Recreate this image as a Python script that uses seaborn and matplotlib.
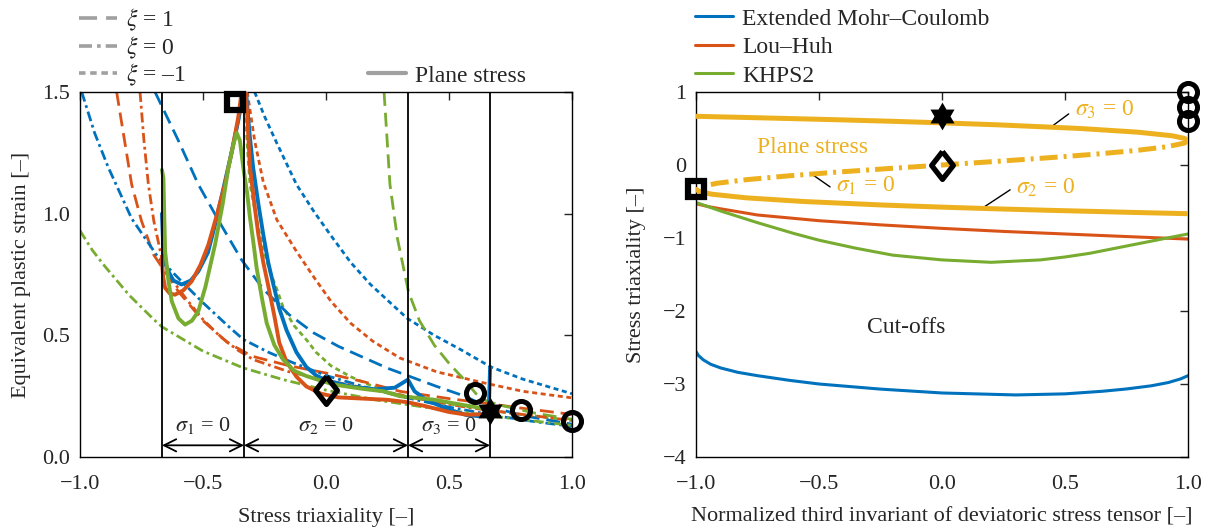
import math
import matplotlib
matplotlib.use('Agg')
import matplotlib.pyplot as plt
from matplotlib.lines import Line2D
import seaborn as sns

sns.set_style('white')
plt.rcParams['font.family'] = ['Liberation Serif', 'DejaVu Serif']
plt.rcParams['mathtext.fontset'] = 'stix'
plt.rcParams['font.size'] = 16

BLUE = '#0072BD'; ORANGE = '#D95319'; GREEN = '#77AC30'; YELLOW = '#EDB120'

# ---------------- left panel data (stress triaxiality vs equivalent plastic strain)
emc_m1_x = [-0.29, -0.25, -0.20, -0.12, -0.05, 0.02, 0.10, 0.18, 0.26, 0.33, 0.44, 0.55, 0.67, 0.80, 0.90, 1.00]
emc_m1_y = [1.50, 1.40, 1.29, 1.12, 1.01, 0.91, 0.80, 0.71, 0.635, 0.57, 0.50, 0.44, 0.37, 0.32, 0.29, 0.26]
lh_m1_x = [-0.32, -0.29, -0.255, -0.20, -0.12, -0.05, 0.02, 0.10, 0.19, 0.30, 0.45, 0.64, 0.80, 1.00]
lh_m1_y = [1.50, 1.30, 1.13, 0.975, 0.845, 0.74, 0.64, 0.55, 0.476, 0.407, 0.35, 0.305, 0.27, 0.243]
kh_m1_x = [-0.335, -0.327, -0.318, -0.309, -0.29, -0.275, -0.25, -0.228, -0.20, -0.174, -0.13, -0.078, -0.04,
           0.02, 0.10, 0.18, 0.26, 0.40, 0.55, 0.75, 1.00]
kh_m1_y = [1.50, 1.39, 1.25, 1.12, 1.02, 0.94, 0.84, 0.763, 0.69, 0.615, 0.54, 0.48, 0.43,
           0.375, 0.33, 0.295, 0.265, 0.235, 0.21, 0.18, 0.15]

emc_p1_x = [-0.695, -0.60, -0.519, -0.43, -0.343, -0.255, -0.15, -0.05, 0.05, 0.15, 0.25, 0.33, 0.45, 0.55, 0.64, 0.80, 1.00]
emc_p1_y = [1.50, 1.30, 1.12, 0.96, 0.81, 0.69, 0.585, 0.51, 0.455, 0.41, 0.365, 0.335, 0.29, 0.255, 0.215, 0.17, 0.135]
lh_p1_x = [-0.851, -0.79, -0.75, -0.70, -0.65, -0.60, -0.50, -0.40, -0.30, -0.15, 0.0, 0.15, 0.30, 0.50, 0.64, 0.80, 1.00]
lh_p1_y = [1.50, 1.12, 0.97, 0.83, 0.755, 0.68, 0.56, 0.47, 0.414, 0.375, 0.345, 0.31, 0.27, 0.24, 0.222, 0.20, 0.175]
kh_p1_x = [0.236, 0.26, 0.29, 0.335, 0.38, 0.44, 0.50, 0.56, 0.61, 0.65, 0.70, 0.85, 1.00]
kh_p1_y = [1.50, 1.12, 0.90, 0.68, 0.56, 0.46, 0.385, 0.32, 0.26, 0.232, 0.215, 0.18, 0.155]

emc_0_x = [-0.993, -0.94, -0.885, -0.79, -0.682, -0.60, -0.499, -0.40, -0.336, -0.233, -0.133, 0.0, 0.15, 0.30, 0.50, 0.707, 0.85, 1.00]
emc_0_y = [1.50, 1.33, 1.19, 0.98, 0.82, 0.735, 0.633, 0.54, 0.483, 0.43, 0.387, 0.335, 0.29, 0.25, 0.205, 0.167, 0.145, 0.126]
lh_0_x = [-0.756, -0.74, -0.722, -0.70, -0.668, -0.62, -0.566, -0.50, -0.431, -0.36, -0.295, -0.15, -0.011, 0.15, 0.30, 0.45, 0.60, 0.80, 1.00]
lh_0_y = [1.50, 1.30, 1.12, 0.97, 0.82, 0.72, 0.647, 0.565, 0.496, 0.44, 0.40, 0.35, 0.318, 0.285, 0.255, 0.225, 0.20, 0.175, 0.15]
kh_0_x = [-1.0, -0.95, -0.90, -0.80, -0.70, -0.667, -0.50, -0.336, -0.174, -0.011, 0.20, 0.40, 0.60, 0.80, 1.00]
kh_0_y = [0.93, 0.85, 0.785, 0.665, 0.565, 0.535, 0.435, 0.366, 0.318, 0.277, 0.235, 0.205, 0.178, 0.153, 0.13]

emc_ps_x = [-0.667, -0.662, -0.655, -0.641, -0.62, -0.587, -0.55, -0.519, -0.48, -0.451, -0.42, -0.383, -0.355, -0.343,
            -0.333, -0.325, -0.31, -0.296, -0.275, -0.255, -0.235, -0.214, -0.19, -0.16, -0.12, -0.08, -0.04, 0.0,
            0.10, 0.20, 0.28, 0.333, 0.36, 0.40, 0.436, 0.50, 0.572, 0.62, 0.655, 0.662, 0.667]
emc_ps_y = [1.00, 0.87, 0.80, 0.763, 0.725, 0.709, 0.725, 0.763, 0.84, 0.955, 1.09, 1.256, 1.39, 1.46,
            1.60, 1.50, 1.32, 1.188, 1.04, 0.914, 0.80, 0.709, 0.61, 0.52, 0.43, 0.37, 0.335, 0.315,
            0.29, 0.278, 0.285, 0.318, 0.27, 0.24, 0.222, 0.195, 0.172, 0.168, 0.17, 0.20, 0.37]
lh_ps_x = [-0.668, -0.662, -0.654, -0.635, -0.614, -0.58, -0.546, -0.51, -0.478, -0.445, -0.411, -0.38, -0.357, -0.343,
           -0.333, -0.32, -0.309, -0.29, -0.275, -0.255, -0.234, -0.21, -0.19, -0.16, -0.12, -0.08, -0.02, 0.05,
           0.15, 0.25, 0.333, 0.40, 0.50, 0.572, 0.62, 0.667]
lh_ps_y = [0.818, 0.74, 0.695, 0.672, 0.667, 0.685, 0.722, 0.79, 0.873, 0.99, 1.12, 1.27, 1.394, 1.50,
           1.60, 1.40, 1.19, 1.03, 0.914, 0.80, 0.70, 0.58, 0.47, 0.39, 0.33, 0.29, 0.26, 0.245,
           0.24, 0.235, 0.225, 0.21, 0.185, 0.174, 0.175, 0.18]
kh_ps_x = [-0.667, -0.661, -0.654, -0.64, -0.627, -0.60, -0.573, -0.545, -0.519, -0.49, -0.451, -0.42, -0.397, -0.375,
           -0.363, -0.35, -0.336, -0.32, -0.309, -0.295, -0.282, -0.26, -0.241, -0.21, -0.174, -0.13, -0.078, 0.03,
           0.15, 0.233, 0.30, 0.436, 0.55, 0.626, 0.667]
kh_ps_y = [1.18, 1.147, 0.845, 0.72, 0.64, 0.57, 0.544, 0.56, 0.599, 0.70, 0.873, 1.04, 1.188, 1.29,
           1.332, 1.30, 1.188, 1.08, 0.983, 0.88, 0.777, 0.65, 0.55, 0.46, 0.40, 0.355, 0.332, 0.298,
           0.28, 0.27, 0.25, 0.236, 0.215, 0.202, 0.195]

region_bounds = [-2/3, -1/3, 1/3, 2/3]
region_labels = [r'$\sigma_1$ = 0', r'$\sigma_2$ = 0', r'$\sigma_3$ = 0']

sq_left = [(-0.37, 1.46)]
dia_left = [(0.0, 0.277)]
circ_left = [(0.606, 0.263), (0.791, 0.195), (1.0, 0.147)]
star_left = [(0.667, 0.188)]

# ---------------- right panel data (Lode parameter vs triaxiality)
ps_s3_xi = [-1.0, -0.782, -0.427, -0.216, -0.024, 0.229, 0.5625, 0.795, 0.936, 0.985, 1.0]
ps_s3_eta = [0.667, 0.65, 0.62, 0.60, 0.58, 0.55, 0.50, 0.45, 0.40, 0.365, 0.333]
ps_s1_xi = [1.0, 0.9855, 0.914, 0.792, 0.629, 0.4365, 0.223, 0.0, -0.223, -0.4365, -0.629, -0.792, -0.914, -0.9855, -1.0]
ps_s1_eta = [0.333, 0.30, 0.25, 0.20, 0.15, 0.10, 0.05, 0.0, -0.05, -0.10, -0.15, -0.20, -0.25, -0.30, -0.333]
ps_s2_xi = [-1.0, -0.985, -0.936, -0.795, -0.5625, -0.229, 0.024, 0.216, 0.427, 0.782, 1.0]
ps_s2_eta = [-0.333, -0.365, -0.40, -0.45, -0.50, -0.55, -0.58, -0.60, -0.62, -0.65, -0.667]

cut_lh_xi = [-1.0, -0.95, -0.9, -0.75, -0.5, -0.25, 0.0, 0.25, 0.5, 0.75, 1.0]
cut_lh_eta = [-0.53, -0.57, -0.60, -0.685, -0.763, -0.82, -0.868, -0.91, -0.945, -0.98, -1.015]
cut_kh_xi = [-1.0, -0.9, -0.75, -0.6, -0.5, -0.35, -0.2, 0.0, 0.2, 0.4, 0.5, 0.6, 0.75, 0.9, 1.0]
cut_kh_eta = [-0.513, -0.63, -0.79, -0.94, -1.03, -1.14, -1.235, -1.30, -1.333, -1.30, -1.26, -1.21, -1.11, -1.01, -0.945]
cut_emc_xi = [-1.0, -0.99, -0.97, -0.94, -0.9, -0.83, -0.75, -0.62, -0.5, -0.25, 0.0, 0.3, 0.5, 0.65, 0.75, 0.85, 0.92, 0.97, 1.0]
cut_emc_eta = [-2.557, -2.61, -2.67, -2.73, -2.78, -2.84, -2.886, -2.95, -3.0, -3.07, -3.123, -3.15, -3.135, -3.10,
               -3.068, -3.025, -2.98, -2.93, -2.886]

sq_right = [(-1.0, -0.333)]
dia_right = [(0.0, 0.0)]
star_right = [(0.0, 0.667)]
circ_right = [(1.0, 1.0), (1.0, 0.8), (1.0, 0.6)]

# ---------------- styles
DASH = (0, (5, 2.5))
DASHDOT = (0, (3.6, 1.4, 1.0, 1.4))
DOT = (0, (1.8, 1.3))
LW = 2.0
LW_PS = 2.8

# marker shapes
DIAMOND = [(0, 1), (0.78, 0), (0, -1), (-0.78, 0), (0, 1)]
HEXAGRAM = []
for k in range(12):
    ang = math.radians(90 + 30 * k)
    r = 1.0 if k % 2 == 0 else 1 / math.sqrt(3)
    HEXAGRAM.append((r * math.cos(ang), r * math.sin(ang)))
HEXAGRAM.append(HEXAGRAM[0])

fig = plt.figure(figsize=(12.16, 5.29), dpi=100)
axL = fig.add_axes([80/1216, 72/529, 492/1216, 365/529])
axR = fig.add_axes([696/1216, 72/529, 492/1216, 365/529])


def line(ax, x, y, color, lw, ls='-', z=2):
    sns.lineplot(x=x, y=y, ax=ax, color=color, lw=lw, linestyle=ls, sort=False, estimator=None, zorder=z)


def markers(ax, sq, dia, circ, star):
    mk = dict(linestyle='none', markeredgecolor='black', markerfacecolor='none', zorder=6, clip_on=False)
    for (x, y) in sq:
        ax.plot([x], [y], marker='s', ms=11, mew=4.5, **mk)
    for (x, y) in dia:
        ax.plot([x], [y], marker=DIAMOND, ms=20, mew=3.8, **mk)
    for (x, y) in circ:
        ax.plot([x], [y], marker='o', ms=13, mew=3.6, **mk)
    for (x, y) in star:
        ax.plot([x], [y], marker=HEXAGRAM, ms=20, color='black', mew=0, linestyle='none', zorder=6, clip_on=False)


# left panel curves
for xs, ys, c in [(emc_m1_x, emc_m1_y, BLUE), (lh_m1_x, lh_m1_y, ORANGE), (kh_m1_x, kh_m1_y, GREEN)]:
    line(axL, xs, ys, c, LW, DOT)
for xs, ys, c in [(emc_p1_x, emc_p1_y, BLUE), (lh_p1_x, lh_p1_y, ORANGE), (kh_p1_x, kh_p1_y, GREEN)]:
    line(axL, xs, ys, c, LW, DASH)
for xs, ys, c in [(emc_0_x, emc_0_y, BLUE), (lh_0_x, lh_0_y, ORANGE), (kh_0_x, kh_0_y, GREEN)]:
    line(axL, xs, ys, c, LW, DASHDOT)
for xs, ys, c in [(emc_ps_x, emc_ps_y, BLUE), (lh_ps_x, lh_ps_y, ORANGE), (kh_ps_x, kh_ps_y, GREEN)]:
    line(axL, xs, ys, c, LW_PS, '-', z=3)

for b in region_bounds:
    axL.plot([b, b], [0, 1.5], color='black', lw=1.3, zorder=4)
edges = region_bounds
for i, lab in enumerate(region_labels):
    a, b = edges[i], edges[i + 1]
    axL.annotate('', xy=(b, 0.048), xytext=(a, 0.048),
                 arrowprops=dict(arrowstyle='<->', color='black', lw=1.3, shrinkA=0, shrinkB=0,
                                 mutation_scale=22), zorder=4)
    axL.text((a + b) / 2, 0.128, lab, ha='center', va='center', fontsize=16)

markers(axL, sq_left, dia_left, circ_left, star_left)

axL.set_xlim(-1, 1)
axL.set_ylim(0, 1.5)
axL.set_xticks([-1, -0.5, 0, 0.5, 1])
axL.set_xticklabels(['−1.0', '−0.5', '0.0', '0.5', '1.0'])
axL.set_yticks([0, 0.5, 1.0, 1.5])
axL.set_yticklabels(['0.0', '0.5', '1.0', '1.5'])
axL.set_xlabel('Stress triaxiality [–]', labelpad=10)
axL.set_ylabel('Equivalent plastic strain [–]', labelpad=8)

# right panel curves
line(axR, ps_s3_xi, ps_s3_eta, YELLOW, 3.6, '-', z=3)
line(axR, ps_s1_xi, ps_s1_eta, YELLOW, 3.6, (0, (3.6, 1.2, 0.6, 1.2)), z=3)
line(axR, ps_s2_xi, ps_s2_eta, YELLOW, 3.6, '-', z=3)
line(axR, cut_lh_xi, cut_lh_eta, ORANGE, 2.2)
line(axR, cut_kh_xi, cut_kh_eta, GREEN, 2.2)
line(axR, cut_emc_xi, cut_emc_eta, BLUE, 2.2)

markers(axR, sq_right, dia_right, circ_right, star_right)

axR.text(-0.753, 0.24, 'Plane stress', color=YELLOW, ha='left', va='center', fontsize=17)
axR.text(-0.43, -0.29, r'$\sigma_1$ = 0', color=YELLOW, ha='left', va='center', fontsize=17)
axR.text(0.30, -0.31, r'$\sigma_2$ = 0', color=YELLOW, ha='left', va='center', fontsize=17)
axR.text(0.54, 0.75, r'$\sigma_3$ = 0', color=YELLOW, ha='left', va='center', fontsize=17)
axR.plot([-0.523, -0.455], [-0.14, -0.30], color='black', lw=1)
axR.plot([0.16, 0.277], [-0.60, -0.34], color='black', lw=1)
axR.plot([0.443, 0.515], [0.52, 0.70], color='black', lw=1)
axR.text(-0.145, -2.22, 'Cut-offs', ha='center', va='center', fontsize=17)

axR.set_xlim(-1, 1)
axR.set_ylim(-4, 1)
axR.set_xticks([-1, -0.5, 0, 0.5, 1])
axR.set_xticklabels(['−1.0', '−0.5', '0.0', '0.5', '1.0'])
axR.set_yticks([-4, -3, -2, -1, 0, 1])
axR.set_yticklabels(['−4', '−3', '−2', '−1', '0', '1'])
axR.set_xlabel('Normalized third invariant of deviatoric stress tensor [–]', labelpad=10)
axR.set_ylabel('Stress triaxiality [–]', labelpad=12)

for ax in (axL, axR):
    ax.tick_params(direction='in', top=True, right=True, length=6, width=1, labelsize=16)
    ax.tick_params(axis='x', pad=13)
    ax.tick_params(axis='y', pad=7)
    for s in ax.spines.values():
        s.set_visible(True)
        s.set_color('black')
        s.set_linewidth(1)

GRAY = '#a0a0a0'
h_xi = [Line2D([], [], color=GRAY, lw=2.6, linestyle=DASH),
        Line2D([], [], color=GRAY, lw=2.6, linestyle=DASHDOT),
        Line2D([], [], color=GRAY, lw=2.6, linestyle=DOT)]
leg1 = fig.legend(h_xi, [r'$\xi$ = 1', r'$\xi$ = 0', r'$\xi$ = –1'], loc='upper left',
                  bbox_to_anchor=(79/1216, 1 - 7/529), frameon=False, borderpad=0, borderaxespad=0,
                  handlelength=1.6, handletextpad=0.4, labelspacing=0.05, fontsize=17)
leg2 = fig.legend([Line2D([], [], color=GRAY, lw=3)], ['Plane stress'], loc='upper left',
                  bbox_to_anchor=(368/1216, 1 - 65/529), frameon=False, borderpad=0, borderaxespad=0,
                  handlelength=1.6, handletextpad=0.4, fontsize=17)
h_m = [Line2D([], [], color=BLUE, lw=2.2), Line2D([], [], color=ORANGE, lw=2.2), Line2D([], [], color=GREEN, lw=2.2)]
leg3 = fig.legend(h_m, ['Extended Mohr–Coulomb', 'Lou–Huh', 'KHPS2'], loc='upper left',
                  bbox_to_anchor=(695/1216, 1 - 8/529), frameon=False, borderpad=0, borderaxespad=0,
                  handlelength=1.6, handletextpad=0.4, labelspacing=0.3, fontsize=17)

fig.savefig('out.png', dpi=100)
